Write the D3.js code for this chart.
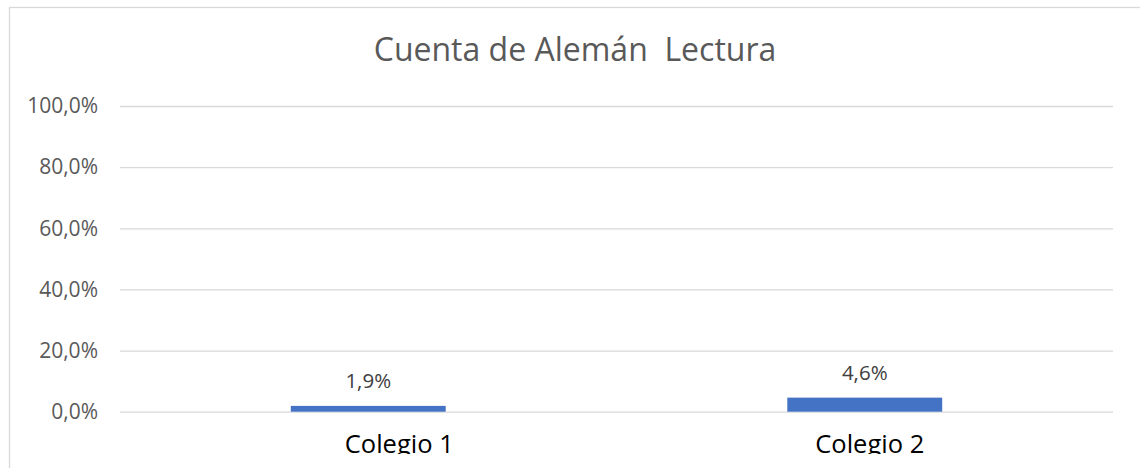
<!DOCTYPE html>
<html>
<head>
<meta charset="utf-8">
<script src="https://cdn.jsdelivr.net/npm/d3@7"></script>
<style>
  body { margin: 0; background: #fff; }
  text { font-family: "Open Sans", sans-serif; }
</style>
</head>
<body>
<div id="chart-area"></div>
<script>
// chart data
var categories = ["Colegio 1", "Colegio 2"];
var values = [0.019, 0.046];
var tickValues = [0, 0.2, 0.4, 0.6, 0.8, 1.0];
var chartTitle = "Cuenta de Alemán  Lectura";

var width = 1140,
    height = 468;

var locale = d3.formatLocale({ decimal: ",", thousands: ".", grouping: [3], currency: ["", "€"] });
var pct1 = locale.format(".1%");

var svg = d3.select("#chart-area").append("svg")
    .attr("width", width)
    .attr("height", height);

// outer chart border (only left and top are visible in the picture)
svg.append("rect")
    .attr("x", 9.5)
    .attr("y", 7.5)
    .attr("width", width + 20)
    .attr("height", height + 20)
    .attr("fill", "none")
    .attr("stroke", "#d9d9d9")
    .attr("stroke-width", 1.3);

var xScale = d3.scaleBand()
    .domain(categories)
    .range([120, 1113])
    .paddingInner(0.688)
    .paddingOuter(0.344);

var yScale = d3.scaleLinear()
    .domain([0, 1])
    .range([411.7, 106]);

// gridlines + y tick labels
var yAxis = d3.axisLeft(yScale)
    .tickValues(tickValues)
    .tickFormat(pct1)
    .tickSize(-(1113 - 120))
    .tickPadding(22);

var yg = svg.append("g")
    .attr("class", "axis y-axis")
    .attr("transform", "translate(120,0)")
    .call(yAxis);

yg.select(".domain").remove();
yg.selectAll(".tick line")
    .attr("stroke", "#d9d9d9")
    .attr("stroke-width", 1.3);
yg.selectAll(".tick text")
    .attr("fill", "#595959")
    .style("font-size", "21px")
    .style("font-family", "'Open Sans', sans-serif");

// bars
svg.selectAll("rect.bar")
    .data(values)
    .enter()
    .append("rect")
    .attr("class", "bar")
    .attr("x", function(d, i){ return xScale(categories[i]); })
    .attr("width", xScale.bandwidth())
    .attr("y", function(d){ return yScale(d); })
    .attr("height", function(d){ return yScale(0) - yScale(d); })
    .attr("fill", "#4472c4");

// data labels
svg.selectAll("text.value")
    .data(values)
    .enter()
    .append("text")
    .attr("class", "value")
    .attr("text-anchor", "middle")
    .attr("x", function(d, i){ return xScale(categories[i]) + xScale.bandwidth() / 2; })
    .attr("y", function(d){ return yScale(d) - 18; })
    .attr("fill", "#404040")
    .style("font-size", "20.5px")
    .text(function(d){ return pct1(d); });

// category labels (picture is cut just below them)
svg.append("clipPath")
    .attr("id", "cut")
    .append("rect")
    .attr("x", 0).attr("y", 0)
    .attr("width", width).attr("height", 454);

var labelShift = [31, 5];
svg.append("g")
    .attr("clip-path", "url(#cut)")
    .selectAll("text")
    .data(categories)
    .enter()
    .append("text")
    .attr("text-anchor", "middle")
    .attr("x", function(d, i){ return xScale(d) + xScale.bandwidth() / 2 + labelShift[i]; })
    .attr("y", 453)
    .attr("fill", "#000")
    .style("font-size", "25.5px")
    .text(function(d){ return d; });

// title
svg.append("text")
    .attr("text-anchor", "middle")
    .attr("x", 575)
    .attr("y", 61)
    .attr("fill", "#595959")
    .style("font-size", "32px")
    .style("white-space", "pre")
    .text(chartTitle);
</script>
</body>
</html>
